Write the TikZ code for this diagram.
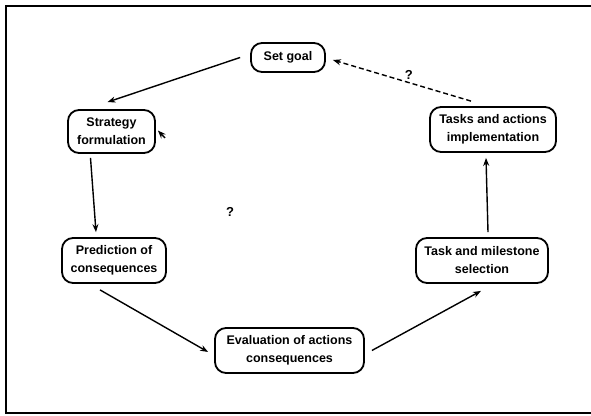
\documentclass[tikz,border=0pt]{standalone}
\usepackage{fontspec}
\setmainfont{Liberation Sans}
\usetikzlibrary{arrows.meta}
\begin{document}
\begin{tikzpicture}[x=1pt,y=1pt,
  stage/.style={draw, line width=1.8pt, rounded corners=11pt, align=center,
    font=\bfseries\fontsize{12.5}{18}\selectfont, inner sep=0pt},
  flow/.style={line width=1.4pt, -{Stealth[length=8pt,width=6pt]}},
  hint/.style={font=\bfseries\fontsize{13}{15}\selectfont}]
\useasboundingbox (0,0) rectangle (591,415);
% open frame round the cycle
\draw[line width=1.4pt] (591,409) -- (6,409) -- (6,2) -- (591,2);

% stages of the cycle
\node[stage, minimum width=74pt, minimum height=29pt] (goal) at (288,357.5) {Set goal};
\node[stage, minimum width=87pt, minimum height=43pt] (strat) at (111.5,283.5) {Strategy\\formulation};
\node[stage, minimum width=126pt, minimum height=45pt] (impl) at (493,285.5) {Tasks and actions\\implementation};
\node[stage, minimum width=104pt, minimum height=45pt] (pred) at (114,154.5) {Prediction of\\consequences};
\node[stage, minimum width=132pt, minimum height=45pt] (sel) at (482,154.5) {Task and milestone\\selection};
\node[stage, minimum width=149pt, minimum height=45pt] (eval) at (289.5,64.5) {Evaluation of actions\\consequences};

% connectors
\draw[flow] ([shift={(-10pt,0pt)}]goal.west) -- ([shift={(-4pt,7pt)}]strat.north);
\draw[flow] ([shift={(-21pt,-4pt)}]strat.south) -- ([shift={(-18pt,5pt)}]pred.north);
\draw[flow] ([shift={(-14pt,-6pt)}]pred.south) -- ([shift={(-6pt,-1.5pt)}]eval.west);
\draw[flow] ([shift={(7pt,0pt)}]eval.east) -- ([shift={(-1pt,-7pt)}]sel.south);
\draw[flow] ([shift={(6pt,5pt)}]sel.north) -- ([shift={(-7pt,-5pt)}]impl.south);
\draw[flow, dashed, dash pattern=on 5pt off 3pt] ([shift={(-22pt,5pt)}]impl.north) -- ([shift={(7pt,-2.5pt)}]goal.east)
  node[hint, pos=0.45, above=-1pt] (q1) {?};

% short feedback stub into the strategy box
\coordinate (stub) at (165,277);
\draw[flow] (stub) -- ([shift={(2pt,1pt)}]strat.east);

% open question in the middle of the cycle
\node[hint] (q2) at (230,203) {?};
\end{tikzpicture}
\end{document}
